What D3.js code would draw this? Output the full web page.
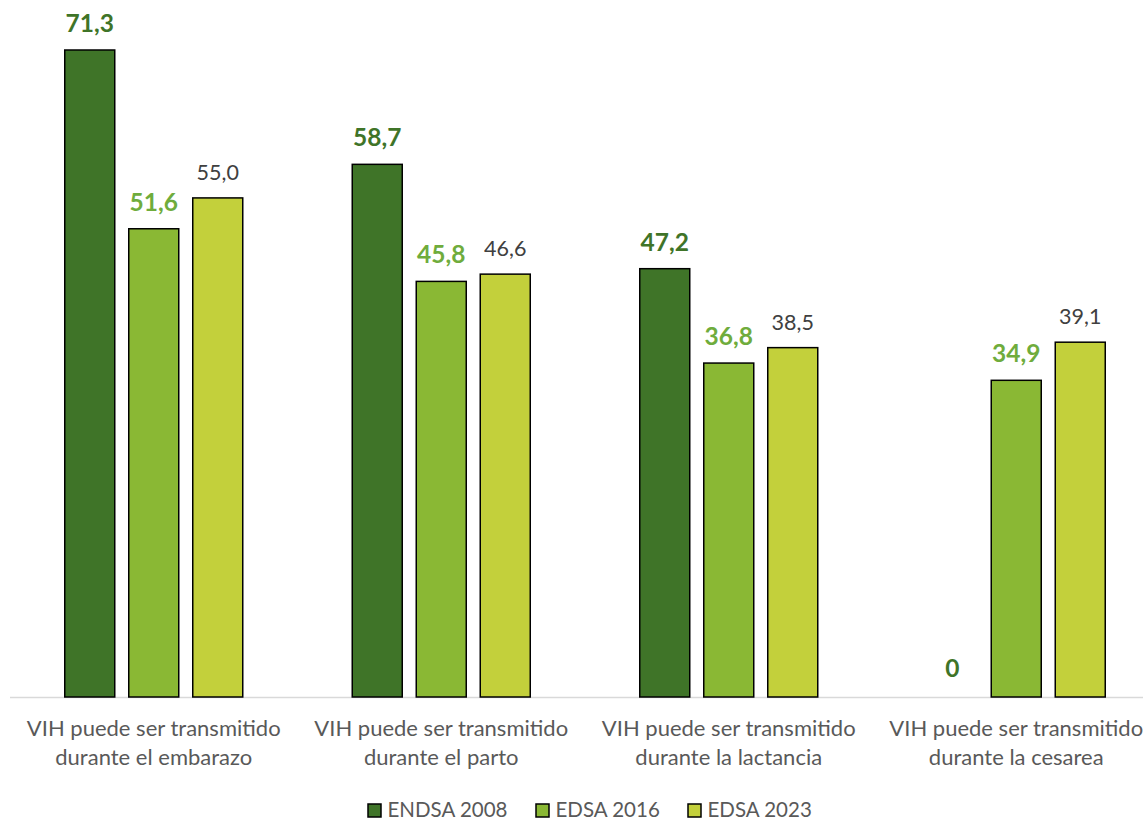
<!DOCTYPE html>
<html><head><meta charset="utf-8">
<script src="https://cdn.jsdelivr.net/npm/d3@7"></script>
<style>body{margin:0;background:#fff;}svg{display:block;font-family:Lato,"Open Sans",sans-serif;}</style>
</head><body>
<svg id="c" width="1143" height="821"></svg>
<script>
const categories = [
  ["VIH puede ser transmitido", "durante el embarazo"],
  ["VIH puede ser transmitido", "durante el parto"],
  ["VIH puede ser transmitido", "durante la lactancia"],
  ["VIH puede ser transmitido", "durante la cesarea"]
];
const seriesNames = ["ENDSA 2008", "EDSA 2016", "EDSA 2023"];
const endsa2008 = [71.3, 58.7, 47.2, 0];
const edsa2016 = [51.6, 45.8, 36.8, 34.9];
const edsa2023 = [55.0, 46.6, 38.5, 39.1];
const seriesValues = [endsa2008, edsa2016, edsa2023];

const fills = ["#3f7428", "#8ab834", "#c3d03b"];
const labelColors = ["#3f7428", "#6fac3c", "#404040"];
const labelWeights = ["bold", "bold", "normal"];
const labelSizes = [24.5, 24.5, 21.5];

const svg = d3.select("#c");
const baseY = 697;
const x0 = d3.scaleBand().domain(d3.range(categories.length)).range([10, 1160]).paddingInner(0).paddingOuter(0);
const x1 = d3.scaleBand().domain(d3.range(seriesNames.length)).range([0, 178]).paddingInner(14/64).paddingOuter(0);
const y = d3.scaleLinear().domain([0, 71.3]).range([baseY, 50]);

const fmt = v => v === 0 ? "0" : v.toFixed(1).replace(".", ",");

// axis line
svg.append("line").attr("x1", 10).attr("x2", 1143).attr("y1", baseY + 0.5).attr("y2", baseY + 0.5)
  .attr("stroke", "#d9d9d9").attr("stroke-width", 1.5);

categories.forEach((cat, i) => {
  const cx = x0(i) + x0.bandwidth() / 2;
  const gx = cx - 89;
  seriesValues.forEach((vals, s) => {
    const v = vals[i];
    const bx = gx + x1(s);
    const bw = x1.bandwidth();
    if (v > 0) {
      svg.append("rect").attr("x", bx).attr("y", y(v)).attr("width", bw).attr("height", baseY - y(v))
        .attr("fill", fills[s]).attr("stroke", "#000").attr("stroke-width", 1.5);
    }
    svg.append("text").attr("x", bx + bw / 2).attr("y", y(v) - (v > 0 ? 18 : 20))
      .attr("text-anchor", "middle").attr("fill", labelColors[s])
      .attr("font-weight", labelWeights[s]).attr("font-size", labelSizes[s]).text(fmt(v));
  });
  cat.forEach((line, k) => {
    svg.append("text").attr("x", cx).attr("y", 736 + k * 28.5).attr("text-anchor", "middle")
      .attr("fill", "#595959").attr("font-size", 22).text(line);
  });
});

// legend
const legX = [368, 536, 688];
seriesNames.forEach((name, s) => {
  svg.append("rect").attr("x", legX[s]).attr("y", 804).attr("width", 13).attr("height", 13)
    .attr("fill", fills[s]).attr("stroke", "#000").attr("stroke-width", 1.5);
  svg.append("text").attr("x", legX[s] + 19.5).attr("y", 817).attr("fill", "#595959")
    .attr("font-size", 20.5).text(name);
});
</script>
</body></html>
